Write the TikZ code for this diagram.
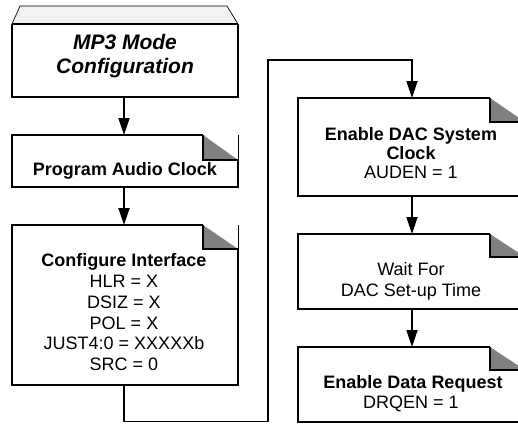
\documentclass[tikz,border=0pt]{standalone}
\usepackage{fontspec}
\setmainfont{Liberation Sans}
\usetikzlibrary{arrows.meta}
\newcommand\foldbox[3]{%
  \fill[foldgray] ([xshift=-#2pt]#1.north east) -- ([xshift=-#2pt,yshift=-#3pt]#1.north east) -- ([yshift=-#3pt]#1.north east) -- cycle;
  \draw[edge] ([xshift=-#2pt]#1.north east) -- (#1.north west) -- (#1.south west) -- (#1.south east) -- ([yshift=-#3pt]#1.north east);
  \draw[edge] ([xshift=-#2pt]#1.north east) -- ([xshift=-#2pt,yshift=-#3pt]#1.north east) -- ([yshift=-#3pt]#1.north east);
  \draw[thinline] (#1.north east) -- ([yshift=-#3pt]#1.north east);
}
\colorlet{foldgray}{black!50}
\begin{document}
\begin{tikzpicture}[x=1pt,y=-1pt,
  boxshape/.style={rectangle,inner sep=0pt,outer sep=0pt,draw=none},
  edge/.style={line width=1.8pt,line join=miter},
  thinline/.style={line width=0.7pt},
  conn/.style={line width=1.8pt,-{Triangle[length=17pt,width=11pt]}},
  lbl/.style={inner sep=0pt,anchor=base,font=\fontsize{18}{21}\selectfont},
  blbl/.style={lbl,font=\fontsize{18}{21}\selectfont\bfseries},
  tlbl/.style={lbl,font=\fontsize{21}{24}\selectfont\bfseries\itshape},
]
\useasboundingbox (0,0) rectangle (518,423);
\clip (0,0) rectangle (518,423);

% boxes
\node[boxshape,minimum width=226pt,minimum height=73pt] (b1) at (125,60.5) {};
\node[boxshape,minimum width=226pt,minimum height=52pt] (b2) at (125,161) {};
\node[boxshape,minimum width=226pt,minimum height=160pt] (b3) at (125,305) {};
\node[boxshape,minimum width=227pt,minimum height=98pt] (b4) at (411.5,147) {};
\node[boxshape,minimum width=227pt,minimum height=75pt] (b5) at (411.5,271.5) {};
\node[boxshape,minimum width=227pt,minimum height=75pt] (b6) at (411.5,384.5) {};

% box 1 with bevelled top
\draw[thinline,fill=black!5] (b1.north west) -- ([shift={(8,-18)}]b1.north west) -- ([shift={(-11,-18)}]b1.north east) -- (b1.north east) -- cycle;
\draw[edge] (b1.north west) -- (b1.south west) -- (b1.south east) -- (b1.north east);
\draw[line width=1.1pt] (b1.north west) -- (b1.north east);

\foldbox{b2}{35}{25}
\foldbox{b3}{35}{24}
\foldbox{b4}{35}{24}
\foldbox{b5}{35}{23}
\foldbox{b6}{35}{23}

% texts
\node[tlbl] (t1a) at (125,49) {MP3 Mode};
\node[tlbl] (t1b) at (125,73) {Configuration};
\node[blbl] (t2a) at (125,175) {Program Audio Clock};
\node[blbl] (t3a) at (124,266) {Configure Interface};
\node[lbl] (t3b) at (124,287) {HLR = X};
\node[lbl] (t3c) at (124,308) {DSIZ = X};
\node[lbl] (t3d) at (124,329) {POL = X};
\node[lbl] (t3e) at (124,349) {JUST4:0 = XXXXXb};
\node[lbl] (t3f) at (124,370) {SRC = 0};
\node[blbl] (t4a) at (411,140) {Enable DAC System};
\node[blbl] (t4b) at (411,159) {Clock};
\node[lbl] (t4c) at (411,178) {AUDEN = 1};
\node[lbl] (t5a) at (411,275) {Wait For};
\node[lbl] (t5b) at (411,296) {DAC Set-up Time};
\node[blbl] (t6a) at (413,388) {Enable Data Request};
\node[lbl] (t6b) at (411,408) {DRQEN = 1};

% connectors
\coordinate (c1) at (268,421.5);
\coordinate (c2) at (268,60);
\draw[conn] ([xshift=-1pt]b1.south) -- ([xshift=-1pt]b2.north);
\draw[conn] ([xshift=-1pt]b2.south) -- ([xshift=-1pt]b3.north);
\draw[conn] ([xshift=-1pt]b3.south) |- (c1) -- (c2) -| ([xshift=0.5pt]b4.north);
\draw[conn] ([xshift=0.5pt]b4.south) -- ([xshift=0.5pt]b5.north);
\draw[conn] ([xshift=0.5pt]b5.south) -- ([xshift=0.5pt]b6.north);
\end{tikzpicture}
\end{document}
